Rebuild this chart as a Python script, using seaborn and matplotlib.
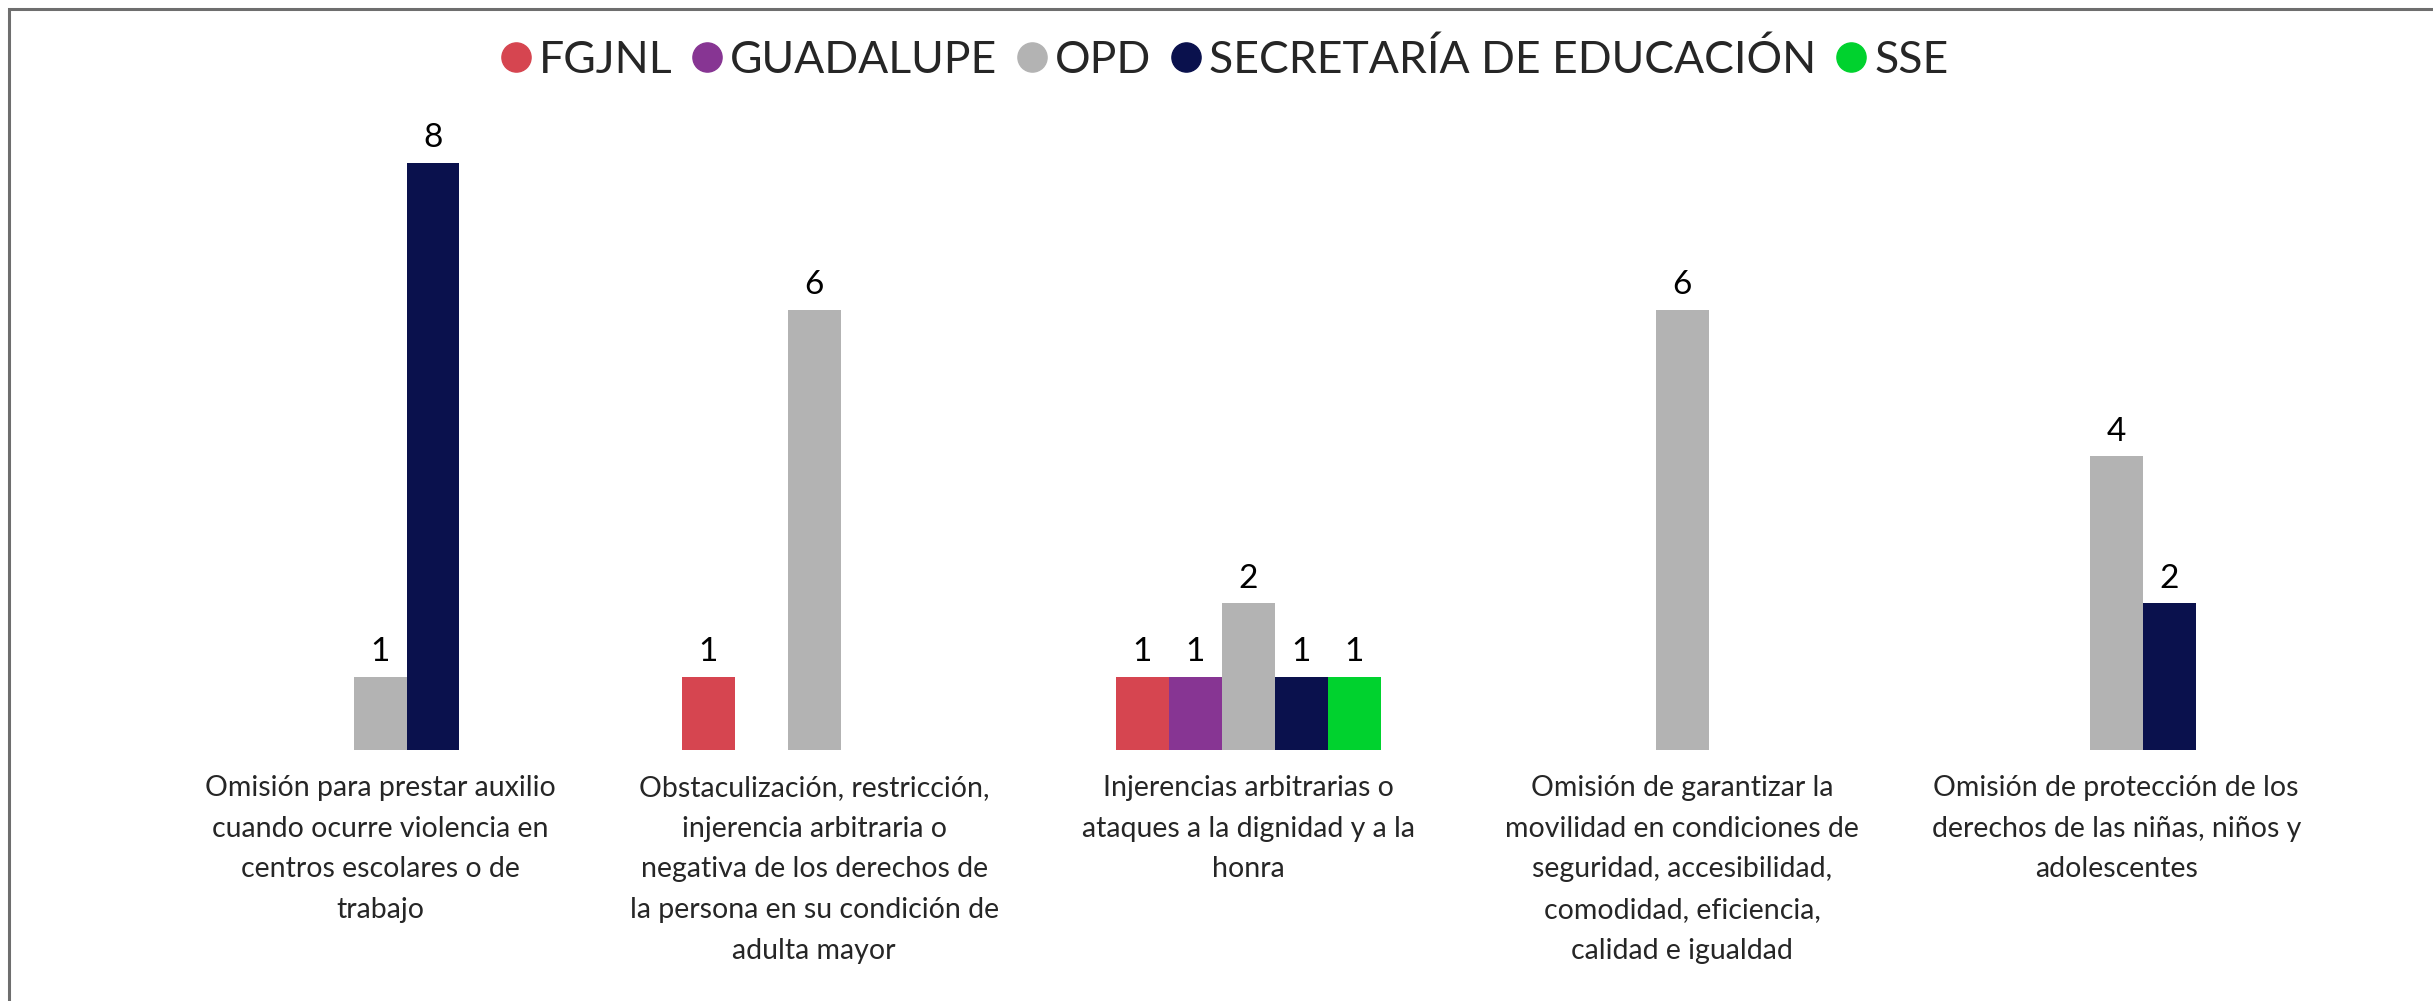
import pandas as pd
import matplotlib
matplotlib.use("Agg")
import matplotlib.pyplot as plt
from matplotlib.patches import Rectangle
from matplotlib.lines import Line2D
import seaborn as sns

categorias = [
    "Omisión para prestar auxilio\ncuando ocurre violencia en\ncentros escolares o de\ntrabajo",
    "Obstaculización, restricción,\ninjerencia arbitraria o\nnegativa de los derechos de\nla persona en su condición de\nadulta mayor",
    "Injerencias arbitrarias o\nataques a la dignidad y a la\nhonra",
    "Omisión de garantizar la\nmovilidad en condiciones de\nseguridad, accesibilidad,\ncomodidad, eficiencia,\ncalidad e igualdad",
    "Omisión de protección de los\nderechos de las niñas, niños y\nadolescentes",
]
autoridades = ["FGJNL", "GUADALUPE", "OPD", "SECRETARÍA DE EDUCACIÓN", "SSE"]
fgjnl = [0, 1, 1, 0, 0]
guadalupe = [0, 0, 1, 0, 0]
opd = [1, 6, 2, 6, 4]
secretaria = [8, 0, 1, 0, 2]
sse = [0, 0, 1, 0, 0]
colores = ["#D64550", "#873593", "#B3B3B3", "#0A114D", "#00D22E"]

filas = []
for serie, valores in zip(autoridades, [fgjnl, guadalupe, opd, secretaria, sse]):
    for cat, v in zip(categorias, valores):
        filas.append({"categoria": cat, "autoridad": serie, "valor": v})
df = pd.DataFrame(filas)

sns.set_style("white")
plt.rcParams["font.family"] = ["Lato", "DejaVu Sans"]

fig = plt.figure(figsize=(24.33, 10.01), dpi=100)
ax = fig.add_axes([0.067, 0.2507, 0.892, 0.66])
sns.barplot(data=df, x="categoria", y="valor", hue="autoridad", order=categorias,
            hue_order=autoridades, palette=colores, width=0.61, linewidth=0,
            saturation=1, legend=False, ax=ax)

for cont in ax.containers:
    etiquetas = [f"{int(b.get_height())}" if b.get_height() > 0 else "" for b in cont]
    ax.bar_label(cont, labels=etiquetas, padding=7, fontsize=24, color="black")

ax.set_xlim(-0.5, 4.5)
ax.set_ylim(0, 9)
ax.set_xlabel("")
ax.set_ylabel("")
ax.set_yticks([])
ax.tick_params(axis="x", length=0, pad=18, labelsize=20.5)
for lbl in ax.get_xticklabels():
    lbl.set_linespacing(1.7)
for s in ax.spines.values():
    s.set_visible(False)

manijas = [Line2D([], [], marker="o", linestyle="", markersize=21, color=c) for c in colores]
fig.legend(manijas, autoridades, loc="center", bbox_to_anchor=(0.503, 0.94), ncol=5,
           frameon=False, fontsize=32, handlelength=0.75, handletextpad=0.15,
           columnspacing=0.4, borderaxespad=0)

fig.patches.append(Rectangle((9 / 2433, -0.1), 1.2, 1.1 - 9 / 1001, transform=fig.transFigure,
                             fill=False, edgecolor="#6E6E6E", linewidth=2.2))

fig.savefig("out.png", dpi=100)
